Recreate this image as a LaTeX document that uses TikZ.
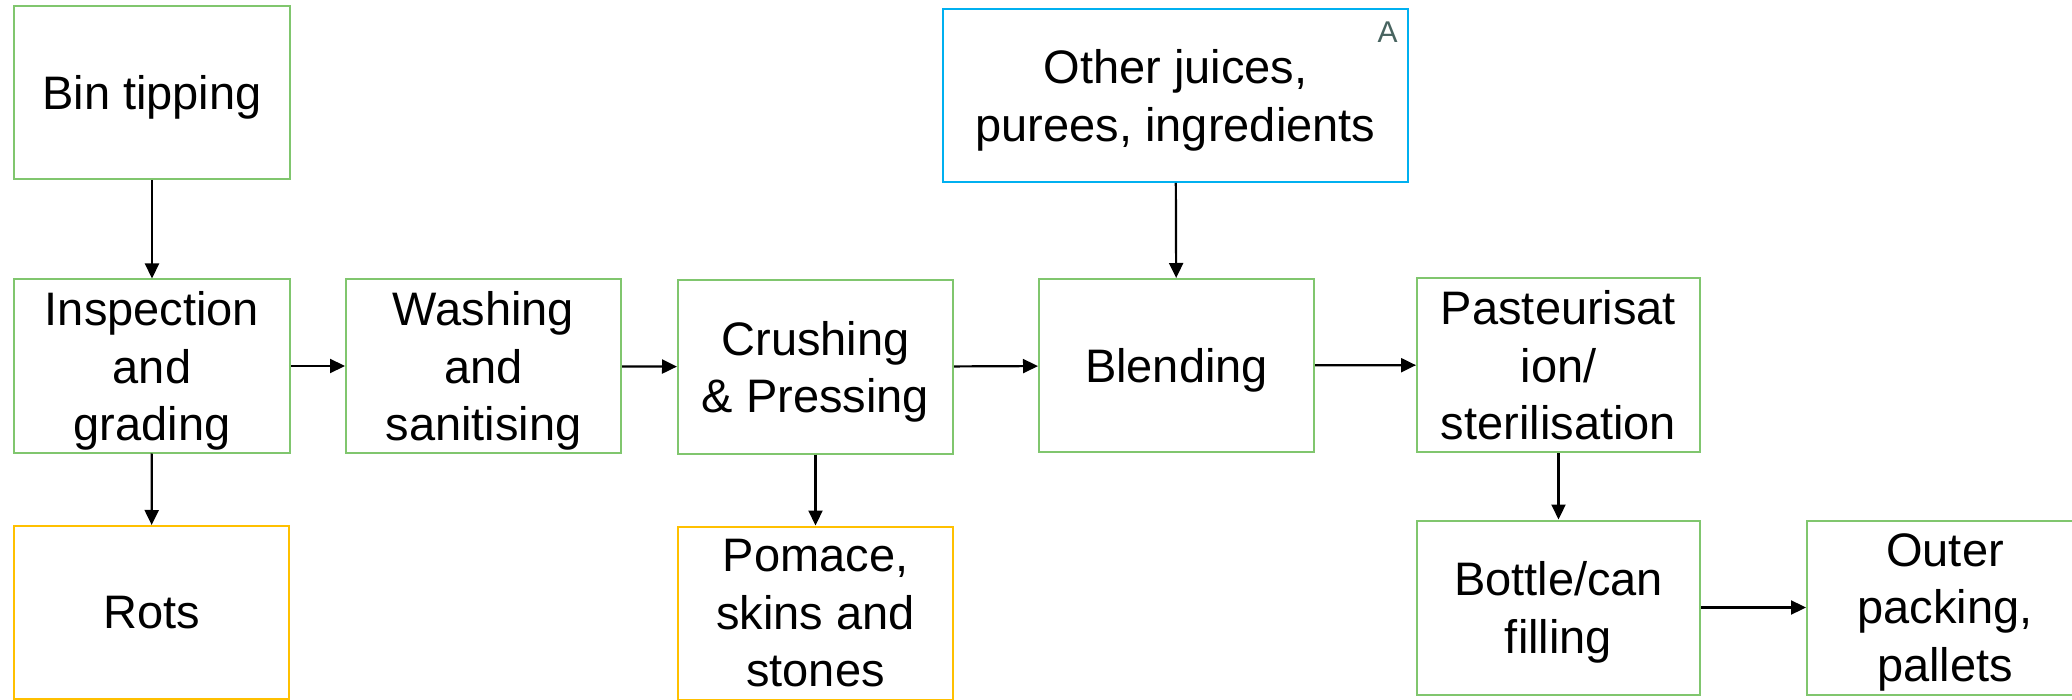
\documentclass[tikz,border=0pt]{standalone}
\usepackage{fontspec}
\setmainfont{Liberation Sans}
\usetikzlibrary{arrows.meta}
\definecolor{boxgreen}{RGB}{128,198,110}
\definecolor{boxyellow}{RGB}{255,192,0}
\definecolor{boxblue}{RGB}{0,176,240}
\definecolor{labelgray}{RGB}{72,100,96}
\tikzset{
  procbox/.style={draw=boxgreen, line width=2pt, rectangle, inner sep=0pt,
    minimum width=276pt, minimum height=173pt, align=center, text depth=0pt,
    font=\fontsize{47}{57.5}\selectfont},
  wastebox/.style={procbox, draw=boxyellow},
  inputbox/.style={procbox, draw=boxblue},
  flow/.style={line width=2.2pt, -{Triangle[length=15pt,width=14pt]}},
}
\begin{document}
\begin{tikzpicture}[x=1pt,y=-1pt]
\useasboundingbox (0,0) rectangle (2072,700);
\fill[white] (0,0) rectangle (2072,700);
\node[procbox] (bin) at (152,92.5) {Bin tipping};
\node[procbox] (insp) at (152,366) {Inspection\\and\\grading};
\node[wastebox, minimum width=275pt] (rots) at (151.5,612.5) {Rots};
\node[procbox, minimum width=275pt] (wash) at (483.5,366) {Washing\\and\\sanitising};
\node[procbox, minimum width=275pt] (crush) at (815.5,367) {Crushing\\\& Pressing};
\node[wastebox, minimum width=275pt] (pomace) at (815.5,613) {Pomace,\\skins and\\stones};
\node[inputbox, minimum width=465pt] (other) at (1175.5,95.5) {Other juices,\\purees, ingredients};
\node[font=\fontsize{30}{36}\selectfont, text=labelgray, inner sep=0pt] (alabel) at (1387.5,32.5) {A};
\node[procbox, minimum width=275pt] (blend) at (1176.5,365.5) {Blending};
\node[procbox, minimum width=283pt, minimum height=174pt] (past) at (1558.5,365) {Pasteurisat\\ion/\\sterilisation};
\node[procbox, minimum width=283pt, minimum height=174pt] (bottle) at (1558.5,607.5) {Bottle/can\\filling};
\node[procbox, minimum height=174pt] (outer) at (1945,607.5) {Outer\\packing,\\pallets};
\draw[flow] (bin) -- (insp);
\draw[flow] (insp) -- (rots);
\draw[flow] (insp) -- (wash);
\draw[flow] (wash) -- (crush);
\draw[flow] (crush) -- (pomace);
\draw[flow] (crush) -- (blend);
\draw[flow] (other) -- (blend);
\draw[flow] (blend) -- (past);
\draw[flow] (past) -- (bottle);
\draw[flow] (bottle) -- (outer);
\end{tikzpicture}
\end{document}
